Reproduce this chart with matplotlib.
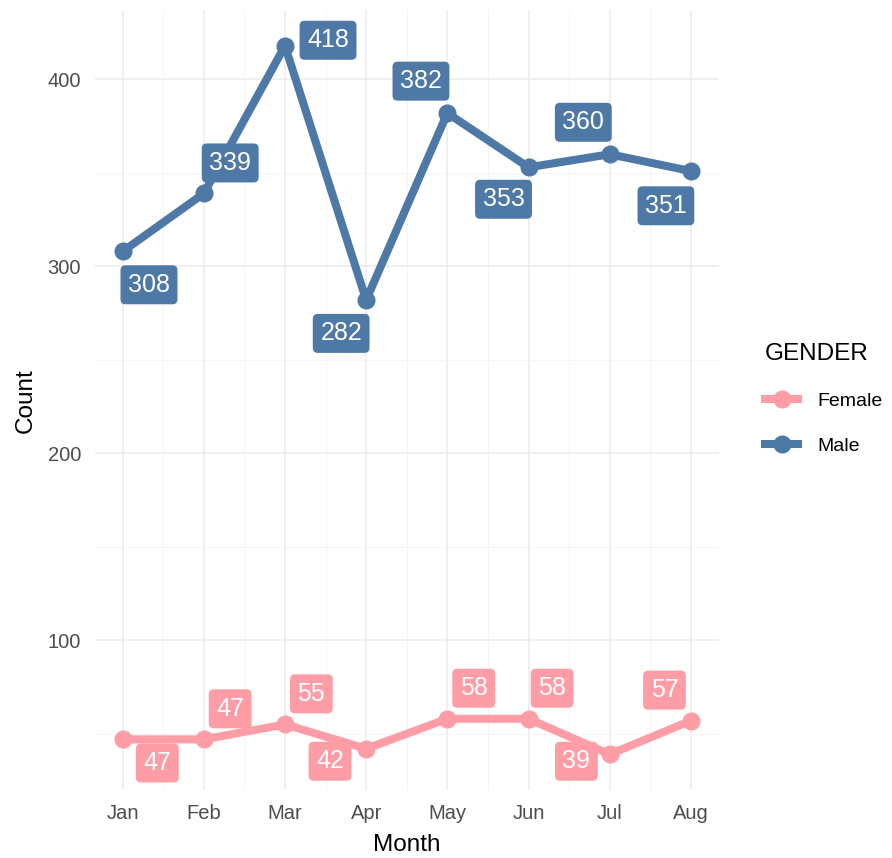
import matplotlib
import matplotlib.pyplot as plt
from matplotlib.lines import Line2D

matplotlib.use("Agg")
plt.rcParams["font.family"] = ["Liberation Sans", "DejaVu Sans"]

months = ["Jan", "Feb", "Mar", "Apr", "May", "Jun", "Jul", "Aug"]
male = [308, 339, 418, 282, 382, 353, 360, 351]
female = [47, 47, 55, 42, 58, 58, 39, 57]

# label offsets in points (repel-style placement)
male_offsets = [(19, -24), (19, 22), (31, 4), (-18, -24), (-19, 23), (-18, -23), (-19, 23), (-18, -25)]
female_offsets = [(25, -17), (19, 22), (19, 22), (-26, -9), (19, 22), (17, 22), (-24, -5), (-19, 22)]

colors = {"Female": "#FF9DA7", "Male": "#4E79A7"}

fig = plt.figure(figsize=(8.92, 8.58), dpi=100)
ax = fig.add_axes([0.1065, 0.079, 0.699, 0.909])

x = list(range(len(months)))
for name, vals, offs in [("Male", male, male_offsets), ("Female", female, female_offsets)]:
    c = colors[name]
    ax.plot(x, vals, color=c, lw=5.8, marker="o", ms=12, solid_capstyle="butt", zorder=3)
    for xi, v, (dx, dy) in zip(x, vals, offs):
        ax.annotate(str(v), (xi, v), xytext=(dx, dy), textcoords="offset points",
                    ha="center", va="center", color="white", fontsize=18,
                    bbox=dict(boxstyle="round,pad=0.3,rounding_size=0.2", fc=c, ec="none"),
                    zorder=4)

ax.set_xticks(x)
ax.set_xticklabels(months)
ax.set_xticks([i + 0.5 for i in range(0, 7)], minor=True)
ax.set_yticks([100, 200, 300, 400])
ax.set_yticks([50, 150, 250, 350], minor=True)
ax.set_xlim(-0.34, 7.34)
ax.set_ylim(19.8, 437)
ax.grid(which="major", color="#EBEBEB", lw=1.1)
ax.grid(which="minor", color="#F3F3F3", lw=0.6)
ax.set_axisbelow(True)
for s in ax.spines.values():
    s.set_visible(False)
ax.tick_params(which="both", length=0, labelsize=14.5, labelcolor="#4D4D4D", pad=10)
ax.set_xlabel("Month", fontsize=17.5, labelpad=8)
ax.set_ylabel("Count", fontsize=17.5, labelpad=8)

handles = [Line2D([0], [0], color=colors[n], lw=5.8, marker="o", ms=12) for n in ["Female", "Male"]]
fig.legend(handles, ["Female", "Male"], title="GENDER", loc="center left",
           bbox_to_anchor=(0.838, 0.535), frameon=False, fontsize=14,
           title_fontsize=17.5, handlelength=1.7, handletextpad=1.0,
           labelspacing=1.4, alignment="left")

fig.savefig("out.png", dpi=100)
